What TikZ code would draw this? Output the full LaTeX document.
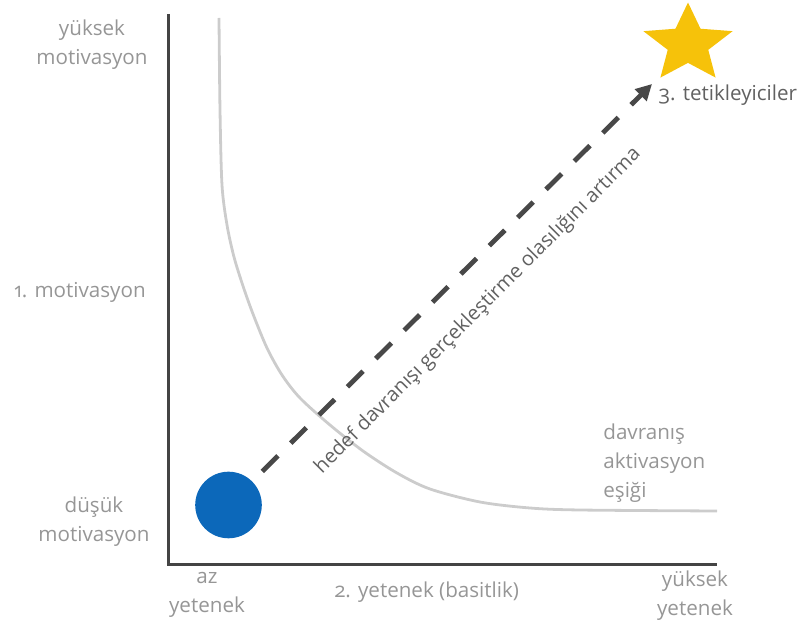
\documentclass[tikz,border=0pt]{standalone}
\usepackage{fontspec}
\setmainfont{Open Sans}[Numbers=OldStyle]
\usepackage{tikz}
\usetikzlibrary{arrows.meta,shapes.geometric}
\definecolor{dotblue}{RGB}{12,104,186}
\definecolor{stargold}{RGB}{246,194,10}
\definecolor{axisgray}{RGB}{68,68,68}
\definecolor{curvegray}{RGB}{204,204,204}
\definecolor{labelgray}{RGB}{150,150,150}
\definecolor{arrowgray}{RGB}{72,72,72}

\begin{document}
\begin{tikzpicture}[x=0.5pt,y=-0.5pt,
    lbl/.style={text=labelgray,font=\fontsize{10.3}{14.5}\selectfont,align=center,inner sep=0pt},
    goal/.style={arrowgray,line width=2.4pt,dash pattern=on 11pt off 9pt,-{Triangle[length=8pt,width=8pt]}}
  ]
  \useasboundingbox (0,0) rectangle (804,630);
  % axes
  \coordinate (ytop) at (168,14);
  \coordinate (xend) at (717,565);
  \draw[axisgray,line width=1.5pt] (ytop) |- (xend);
  % activation threshold curve
  \draw[curvegray,line width=1.4pt,smooth] plot coordinates {(219,18) (220,110) (222,185) (227,225) (234,257) (243,286) (253,314) (267,348) (282,375) (300,398) (330,425) (363,451) (397,473) (430,489) (480,502) (530,508) (580,510) (717,511)};
  % start point and goal
  \node[circle,fill=dotblue,minimum size=33.3pt,inner sep=0pt] (dot) at (228.5,505) {};
  \node[star,star points=5,star point ratio=2.2,fill=stargold,minimum size=41.5pt,inner sep=0pt,xscale=1.13] (goalstar) at (688,44) {};
  \coordinate (tip) at (652,84);
  \draw[goal,shorten <=7pt] (dot) -- (tip);
  \node[lbl,rotate=45,text=black!62,font=\fontsize{10}{12}\selectfont] (path) at (478,311) {hedef davranışı gerçekleştirme olasılığını artırma};
  % labels
  \node[lbl] (ymax) at (92,45) {yüksek\\motivasyon};
  \node[lbl] (ylab) at (80,292) {1. motivasyon};
  \node[lbl] (ymin) at (94,522) {düşük\\motivasyon};
  \node[lbl] (xmin) at (207,595) {az\\yetenek};
  \node[lbl] (xlab) at (427,592) {2. yetenek (basitlik)};
  \node[lbl] (xmax) at (695,596) {yüksek\\yetenek};
  \node[lbl,align=left,anchor=west] (thresh) at (603,463) {davranış\\aktivasyon\\eşiği};
  \node[lbl,anchor=west,text=black!62] (trig) at (658,95) {3. tetikleyiciler};
\end{tikzpicture}
\end{document}
